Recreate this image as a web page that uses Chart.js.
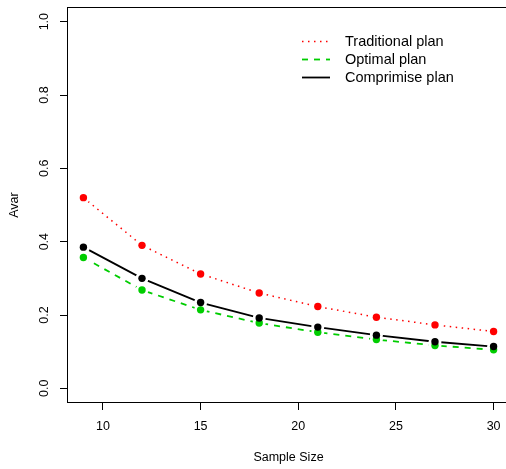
<!DOCTYPE html>
<html>
<head>
<meta charset="utf-8">
<script src="https://cdn.jsdelivr.net/npm/chart.js@4"></script>
<style>
  html, body { margin: 0; padding: 0; background: #fff; overflow: hidden; }
  #wrap { width: 510px; height: 469px; }
</style>
</head>
<body>
<div id="wrap"><canvas id="avarChart" width="510" height="469"></canvas></div>
<script>
// Sample sizes on the x axis
let sampleSizes = [9, 12, 15, 18, 21, 24, 27, 30];
// Asymptotic variance of each plan for every sample size
let traditionalAvar = [0.520, 0.390, 0.312, 0.260, 0.223, 0.194, 0.173, 0.155];
let optimalAvar = [0.357, 0.268, 0.214, 0.178, 0.153, 0.133, 0.117, 0.105];
let compromiseAvar = [0.385, 0.300, 0.234, 0.192, 0.167, 0.145, 0.127, 0.114];
// Tick labels
let xTicks = [10, 15, 20, 25, 30];
let yTicks = [0.0, 0.2, 0.4, 0.6, 0.8, 1.0];
let planNames = ["Traditional plan", "Optimal plan", "Comprimise plan"];

let fontFamily = "'Liberation Sans', Arial, Helvetica, sans-serif";
Chart.defaults.font.family = fontFamily;
Chart.defaults.color = "#000";

function toPoints(values)
{
    return values.map((v, i) => ({ x: sampleSizes[i], y: v }));
}

// One dataset for the line (with gaps around the points) and one for the dots
function lineSet(label, values, color, width, dash, order)
{
    return {
        label: label,
        data: toPoints(values),
        borderColor: color,
        borderWidth: width,
        borderDash: dash,
        pointRadius: 0,
        tension: 0,
        gapRadius: 6.5,
        order: order
    };
}

function pointSet(values, color, order)
{
    return {
        data: toPoints(values),
        showLine: false,
        pointRadius: 3.7,
        pointBackgroundColor: color,
        pointBorderWidth: 0,
        order: order
    };
}

// Cuts the line around its own points, like type = "b" in R
const gapPlugin = {
    id: "lineGaps",
    beforeDatasetDraw(chart, args)
    {
        let ds = chart.data.datasets[args.index];
        if (!ds.gapRadius) return;
        let clip = new Path2D();
        clip.rect(0, 0, chart.width, chart.height);
        for (let pt of args.meta.data)
        {
            clip.moveTo(pt.x + ds.gapRadius, pt.y);
            clip.arc(pt.x, pt.y, ds.gapRadius, 0, Math.PI * 2);
        }
        chart.ctx.save();
        chart.ctx.clip(clip, "evenodd");
    },
    afterDatasetDraw(chart, args)
    {
        if (chart.data.datasets[args.index].gapRadius) chart.ctx.restore();
    }
};

// Frame around the plot region
const boxPlugin = {
    id: "plotBox",
    beforeDatasetsDraw(chart)
    {
        let a = chart.chartArea;
        let ctx = chart.ctx;
        ctx.save();
        ctx.strokeStyle = "#000";
        ctx.lineWidth = 1;
        ctx.strokeRect(Math.round(a.left) + 0.5, Math.round(a.top) + 0.5, a.right - a.left + 2, Math.round(a.bottom - a.top) - 1);
        ctx.restore();
    }
};

// Vertical tick labels on the y axis
const yLabelPlugin = {
    id: "yTickLabels",
    afterDraw(chart)
    {
        let scale = chart.scales.y;
        let ctx = chart.ctx;
        ctx.save();
        ctx.font = "12.5px " + fontFamily;
        ctx.fillStyle = "#000";
        ctx.textAlign = "center";
        ctx.textBaseline = "middle";
        for (let v of yTicks)
        {
            ctx.save();
            ctx.translate(45, scale.getPixelForValue(v));
            ctx.rotate(-Math.PI / 2);
            ctx.fillText(v.toFixed(1), 0, 0);
            ctx.restore();
        }
        ctx.restore();
    }
};

// Legend in the top right corner, styled from the line datasets
const legendPlugin = {
    id: "planLegend",
    afterDraw(chart)
    {
        let ctx = chart.ctx;
        ctx.save();
        ctx.font = "14.5px " + fontFamily;
        ctx.textBaseline = "middle";
        ctx.textAlign = "left";
        let row = 0;
        for (let ds of chart.data.datasets)
        {
            if (!ds.gapRadius) continue;
            let y = 41.5 + row * 18;
            ctx.strokeStyle = ds.borderColor;
            ctx.lineWidth = ds.borderWidth;
            ctx.setLineDash(ds.borderDash || []);
            ctx.beginPath();
            ctx.moveTo(302, y);
            ctx.lineTo(330, y);
            ctx.stroke();
            ctx.setLineDash([]);
            ctx.fillStyle = "#000";
            ctx.fillText(ds.label, 345, y);
            row++;
        }
        ctx.restore();
    }
};

let axisGrid = { drawOnChartArea: false, drawTicks: true, tickLength: 7, color: "#000", lineWidth: 1 };

new Chart(document.getElementById("avarChart"),
{
    type: "line",
    data:
    {
        datasets: [
            lineSet(planNames[0], traditionalAvar, "#ff0000", 1.5, [1.5, 4.5], 6),
            pointSet(traditionalAvar, "#ff0000", 5),
            lineSet(planNames[1], optimalAvar, "#00cd00", 1.8, [6, 6], 4),
            pointSet(optimalAvar, "#00cd00", 3),
            lineSet(planNames[2], compromiseAvar, "#000000", 1.8, [], 2),
            pointSet(compromiseAvar, "#000000", 1)
        ]
    },
    options:
    {
        responsive: false,
        devicePixelRatio: 1,
        animation: false,
        events: [],
        // the plot box runs past the right edge of the window
        layout: { autoPadding: false, padding: { top: 7, left: 0, right: 0, bottom: 0 } },
        plugins:
        {
            legend: { display: false },
            tooltip: { enabled: false }
        },
        scales:
        {
            x:
            {
                type: "linear",
                min: 8.16,
                max: 30.84,
                afterBuildTicks: (scale) => { scale.ticks = xTicks.map(v => ({ value: v })); },
                afterFit: (scale) => { scale.height = 66; scale.paddingLeft = 0; scale.paddingRight = 0; },
                grid: axisGrid,
                border: { display: false },
                ticks: { padding: 9, color: "#000", font: { size: 12.5 }, maxRotation: 0, autoSkip: false },
                title: { display: true, text: "Sample Size", color: "#000", font: { size: 12.5 }, padding: { top: 0, bottom: 4 } }
            },
            y:
            {
                type: "linear",
                min: -0.04,
                max: 1.04,
                afterBuildTicks: (scale) => { scale.ticks = yTicks.map(v => ({ value: v })); },
                afterFit: (scale) => { scale.width = 67; scale.paddingTop = 0; scale.paddingBottom = 0; },
                grid: axisGrid,
                border: { display: false },
                ticks: { display: false },
                title: { display: true, text: "Avar", color: "#000", font: { size: 12.5 }, padding: { top: 7, bottom: 0 } }
            }
        }
    },
    plugins: [gapPlugin, boxPlugin, yLabelPlugin, legendPlugin]
});
</script>
</body>
</html>
